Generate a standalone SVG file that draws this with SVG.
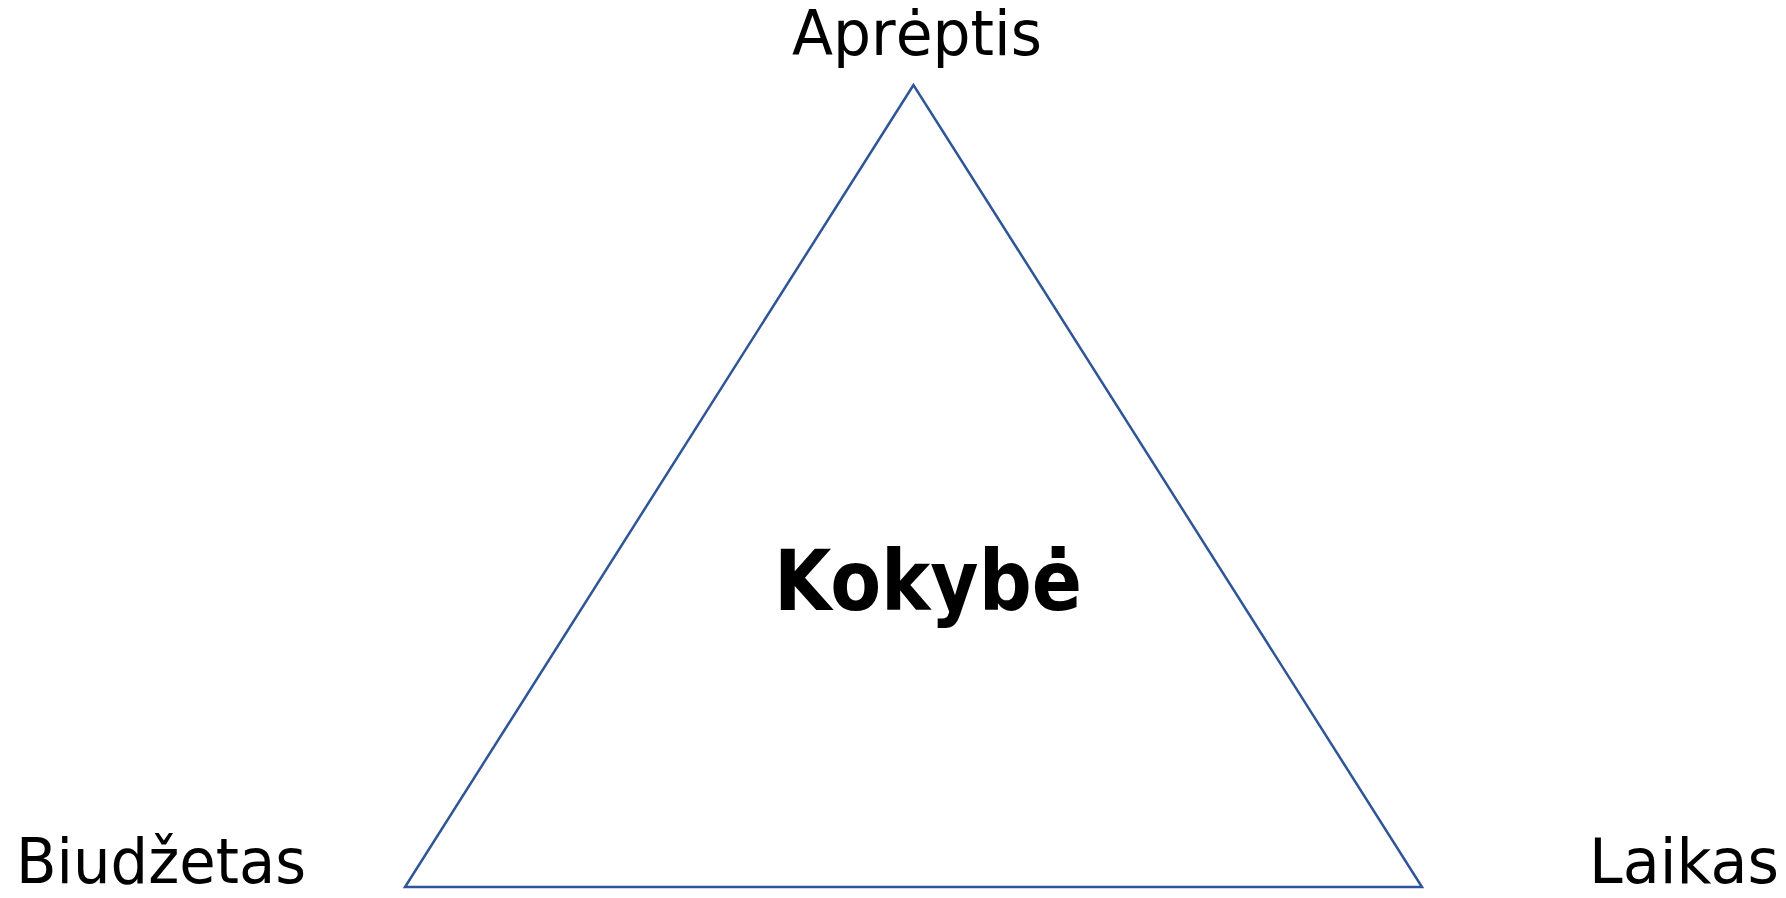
<svg xmlns="http://www.w3.org/2000/svg" width="1786" height="898" viewBox="0 0 1786 898">
<style>
.lbl{font-family:"DejaVu Sans","Liberation Sans",sans-serif;font-size:62px;fill:#000}
.ctr{font-family:"DejaVu Sans","Liberation Sans",sans-serif;font-size:84px;font-weight:bold;fill:#000}
.edge{fill:none;stroke:#2F5597;stroke-width:2.5;stroke-linejoin:miter}
</style>
<rect width="1786" height="898" fill="#fff"/>
<g id="connectors">
<polygon class="edge" points="913.5,85 405,887 1422,887"/>
</g>
<g id="node-apreptis"><text class="lbl" x="792" y="55" textLength="250" lengthAdjust="spacingAndGlyphs">Aprėptis</text></g>
<g id="node-biudzetas"><text class="lbl" x="16" y="883" textLength="290" lengthAdjust="spacingAndGlyphs">Biudžetas</text></g>
<g id="node-laikas"><text class="lbl" x="1589" y="883" textLength="190" lengthAdjust="spacingAndGlyphs">Laikas</text></g>
<g id="node-kokybe"><text class="ctr" x="774" y="610" textLength="308" lengthAdjust="spacingAndGlyphs">Kokybė</text></g>
</svg>
